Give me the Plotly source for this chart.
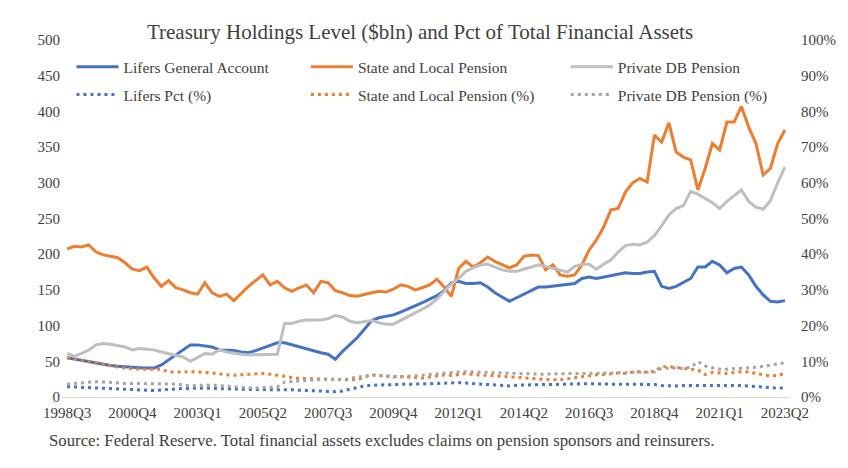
import plotly.graph_objects as go

# Quarters 1998Q3 .. 2023Q2
quarters = [f"{y}Q{q}" for y in range(1998, 2024) for q in range(1, 5)]
quarters = quarters[quarters.index("1998Q3"):quarters.index("2023Q2") + 1]

tick_labels = ["1998Q3", "2000Q4", "2003Q1", "2005Q2", "2007Q3", "2009Q4",
               "2012Q1", "2014Q2", "2016Q3", "2018Q4", "2021Q1", "2023Q2"]

lifers_level = [55, 53, 51, 49, 47, 45, 44, 43, 42, 41.5,
                41, 40.5, 40.5, 45, 52, 60, 67, 73, 73, 71,
                70, 66, 66, 65, 63, 62, 65, 69, 72, 76,
                76, 73, 70, 67, 64, 62, 60, 53, 64, 74,
                83, 95, 107, 111, 113, 115, 119, 123, 128, 132,
                137, 142, 149, 160, 162, 159, 159, 160, 154, 146,
                140, 134, 139, 144, 149, 154, 154, 155, 157, 158,
                159, 166, 168, 166, 168, 171, 173, 174, 173, 173,
                175, 176, 155, 152, 155, 161, 166, 182, 182, 190,
                185, 174, 180, 182, 171, 155, 143, 134, 133, 135]

state_local_level = [207, 211, 210, 213, 203, 199, 197, 195, 188, 179,
                     177, 182, 167, 155, 163, 153, 150, 146, 144, 160,
                     146, 141, 144, 135, 145, 155, 163, 171, 157, 162,
                     153, 148, 153, 157, 146, 162, 160, 149, 146, 142,
                     141, 144, 146, 148, 147, 151, 157, 155, 150, 153,
                     157, 165, 154, 141, 180, 190, 182, 188, 196, 190,
                     186, 181, 185, 197, 199, 198, 178, 185, 171, 169,
                     171, 185, 206, 220, 238, 262, 264, 287, 300, 306,
                     301, 367, 357, 384, 343, 336, 332, 290, 320, 355,
                     346, 385, 385, 407, 378, 355, 311, 320, 355, 374]

private_db_level = [61, 57, 61, 66, 73, 75, 74, 72, 70, 66,
                    68, 67, 66, 63, 61, 59, 56, 50, 56, 61,
                    60, 66, 63, 61, 60, 59, 59, 59, 59, 60,
                    103, 103, 106, 108, 108, 108, 110, 114, 112, 106,
                    104, 105, 107, 104, 102, 102, 107, 112, 118, 123,
                    129, 137, 148, 158, 166, 176, 181, 185, 186, 182,
                    178, 176, 176, 179, 182, 185, 183, 180, 178, 175,
                    183, 186, 186, 179, 186, 192, 203, 212, 214, 213,
                    217, 226, 240, 255, 264, 268, 288, 284, 278, 272,
                    264, 274, 282, 290, 274, 266, 263, 275, 300, 322]

lifers_pct = [2.9, 2.8, 2.7, 2.6, 2.5, 2.4, 2.3, 2.2, 2.1, 2.0,
              1.9, 1.9, 1.8, 2.0, 2.2, 2.3, 2.4, 2.4, 2.5, 2.5,
              2.4, 2.4, 2.4, 2.3, 2.2, 2.1, 2.1, 2.2, 2.2, 2.1,
              2.0, 2.0, 1.9, 1.8, 1.7, 1.6, 1.5, 1.5, 1.7, 2.2,
              2.8, 3.1, 3.3, 3.4, 3.4, 3.5, 3.5, 3.6, 3.6, 3.7,
              3.7, 3.8, 3.9, 4.0, 4.0, 3.9, 3.8, 3.7, 3.6, 3.4,
              3.2, 3.1, 3.3, 3.4, 3.5, 3.5, 3.5, 3.5, 3.6, 3.6,
              3.6, 3.7, 3.7, 3.6, 3.6, 3.6, 3.6, 3.6, 3.6, 3.6,
              3.6, 3.5, 3.2, 3.1, 3.1, 3.2, 3.2, 3.3, 3.3, 3.4,
              3.3, 3.2, 3.2, 3.2, 3.1, 2.9, 2.7, 2.6, 2.5, 2.5]

state_local_pct = [11.0, 10.6, 10.2, 9.8, 9.4, 9.0, 8.7, 8.4, 8.1, 7.9,
                   7.8, 7.8, 7.8, 7.8, 7.0, 6.9, 7.0, 7.1, 7.1, 6.9,
                   6.7, 6.4, 6.2, 6.1, 6.2, 6.4, 6.4, 6.6, 6.4, 6.1,
                   5.6, 5.3, 5.2, 5.2, 5.1, 5.0, 4.9, 4.8, 4.8, 4.8,
                   4.9, 5.6, 6.2, 6.0, 5.7, 5.6, 5.7, 5.6, 5.5, 5.3,
                   5.6, 6.0, 6.2, 6.0, 6.4, 6.6, 6.3, 6.2, 6.0, 5.8,
                   5.7, 5.7, 5.6, 5.4, 5.2, 5.0, 4.9, 4.8, 4.8, 5.0,
                   5.4, 5.7, 6.0, 6.2, 6.3, 6.6, 6.7, 6.6, 7.0, 7.1,
                   6.9, 7.2, 8.5, 8.5, 8.2, 8.1, 7.8, 7.6, 6.3, 6.9,
                   6.8, 6.6, 6.9, 7.1, 7.0, 6.7, 6.3, 5.9, 6.1, 6.6]

private_db_pct = [3.6, 3.8, 3.9, 4.1, 4.3, 4.2, 4.0, 3.9, 3.8, 3.8,
                  3.8, 3.8, 3.8, 3.8, 3.7, 3.6, 3.4, 3.1, 3.3, 3.4,
                  3.3, 3.2, 3.0, 2.9, 2.8, 2.6, 2.5, 2.6, 2.8, 2.9,
                  4.2, 4.4, 4.6, 4.7, 4.8, 4.8, 4.8, 4.9, 4.8, 5.2,
                  5.6, 5.9, 6.1, 6.0, 5.8, 5.7, 5.7, 5.8, 6.0, 6.2,
                  6.3, 6.6, 6.8, 6.9, 7.0, 7.1, 7.1, 7.0, 6.9, 6.8,
                  6.7, 6.6, 6.6, 6.5, 6.5, 6.4, 6.4, 6.5, 6.5, 6.5,
                  6.6, 6.6, 6.6, 6.6, 6.7, 6.7, 6.8, 6.8, 6.9, 7.0,
                  6.9, 7.0, 8.0, 8.1, 8.1, 8.0, 8.3, 9.9, 8.7, 8.2,
                  7.8, 7.8, 7.9, 8.0, 8.1, 8.3, 8.6, 9.0, 9.3, 9.6]

BLUE = "#4472C4"
ORANGE = "#ED7D31"
GRAY = "#BFBFBF"
GRAY_DOT = "#A5A5A5"
FONT = "Liberation Serif"
TXT = "#404040"

x_idx = list(range(len(quarters)))

fig = go.Figure()

# (name, values, colour, legend id)
solid = [("Lifers General Account", lifers_level, BLUE, "legend"),
         ("State and Local Pension", state_local_level, ORANGE, "legend2"),
         ("Private DB Pension", private_db_level, GRAY, "legend3")]
dotted = [("Lifers Pct (%)", lifers_pct, BLUE, "legend4"),
          ("State and Local Pension (%)", state_local_pct, ORANGE, "legend5"),
          ("Private DB Pension (%)", private_db_pct, GRAY_DOT, "legend6")]

for name, vals, col, lg in dotted:
    fig.add_trace(go.Scatter(x=x_idx, y=vals, name=name, mode="lines",
                             line=dict(color=col, width=3, dash="3px,4px"),
                             yaxis="y2", legend=lg,
                             customdata=quarters,
                             hovertemplate="%{customdata}: %{y}%<extra></extra>"))
for name, vals, col, lg in solid:
    fig.add_trace(go.Scatter(x=x_idx, y=vals, name=name, mode="lines",
                             line=dict(color=col, width=3),
                             legend=lg,
                             customdata=quarters,
                             hovertemplate="%{customdata}: %{y}<extra></extra>"))

tick_pos = [quarters.index(t) for t in tick_labels]

def leg(x, y):
    return dict(orientation="h", x=x, y=y, xanchor="left", yanchor="middle",
                itemwidth=42, font=dict(family=FONT, size=15.5, color=TXT),
                bgcolor="rgba(0,0,0,0)")

col_x = [0.013, 0.335, 0.692]
row_y = [0.924, 0.846]

fig.update_layout(
    width=840, height=460,
    margin=dict(l=54, r=58, t=32, b=71),
    paper_bgcolor="white", plot_bgcolor="white",
    font=dict(family=FONT, size=15, color=TXT),
    title=dict(text="Treasury Holdings Level ($bln) and Pct of Total Financial Assets",
               x=0.4905, xanchor="center", y=0.948, yanchor="middle",
               font=dict(family=FONT, size=21, color=TXT)),
    showlegend=True,
    xaxis=dict(range=[-0.7, 99.7], tickmode="array", tickvals=tick_pos,
               ticktext=tick_labels, showgrid=False, zeroline=False,
               showline=True, linecolor="#D9D9D9", linewidth=1,
               ticks="", ticklabelstandoff=2,
               tickfont=dict(family=FONT, size=15, color=TXT)),
    yaxis=dict(range=[0, 500], dtick=50, showgrid=False, zeroline=False,
               ticks="", ticklabelstandoff=1,
               tickfont=dict(family=FONT, size=15, color=TXT)),
    yaxis2=dict(range=[0, 100], dtick=10, ticksuffix="%", overlaying="y",
                side="right", showgrid=False, zeroline=False, ticks="",
                ticklabelstandoff=10,
                tickfont=dict(family=FONT, size=15, color=TXT)),
    legend=leg(col_x[0], row_y[0]),
    legend2=leg(col_x[1], row_y[0]),
    legend3=leg(col_x[2], row_y[0]),
    legend4=leg(col_x[0], row_y[1]),
    legend5=leg(col_x[1], row_y[1]),
    legend6=leg(col_x[2], row_y[1]),
    annotations=[dict(text="Source: Federal Reserve. Total financial assets excludes claims on pension sponsors and reinsurers.",
                      xref="paper", yref="paper", x=-0.0206, y=-0.123,
                      xanchor="left", yanchor="middle", showarrow=False,
                      font=dict(family=FONT, size=16.75, color=TXT))],
)

fig.write_html("out.html")
